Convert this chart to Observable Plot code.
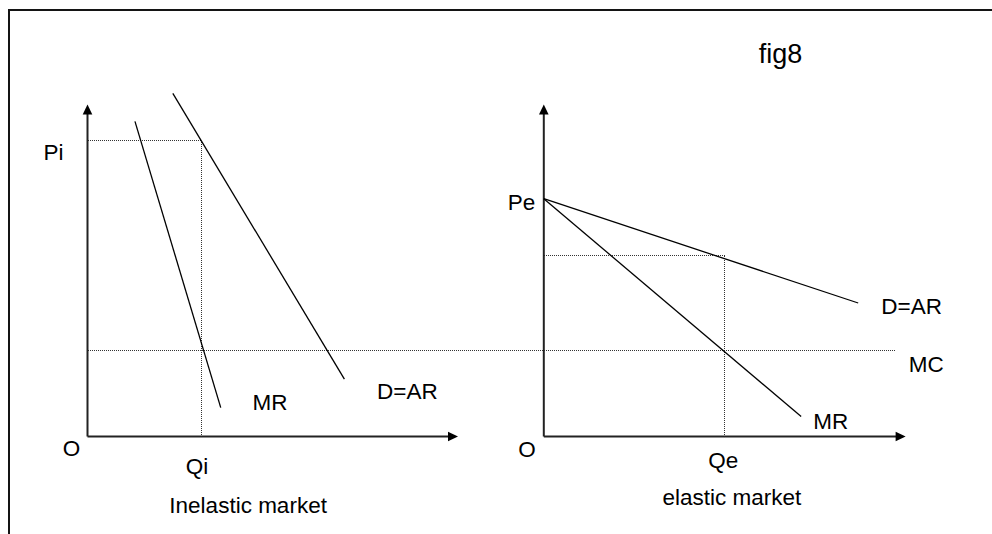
<!DOCTYPE html>
<html>
<head>
<meta charset="utf-8">
<script src="https://cdn.jsdelivr.net/npm/d3@7"></script>
<script src="https://cdn.jsdelivr.net/npm/@observablehq/plot@0.6"></script>
<style>
  html, body { margin: 0; padding: 0; background: #fff; }
  #wrap { position: relative; width: 992px; height: 534px; overflow: hidden; }
  #chart { position: absolute; left: 0; top: 0; }
  #frame { position: absolute; left: 7.5px; top: 8.5px; right: -10px; bottom: -10px;
           border-top: 2px solid #141414; border-left: 2px solid #141414; pointer-events: none; }
</style>
</head>
<body>
<div id="wrap"><div id="chart"></div><div id="frame"></div></div>
<script>
// ---- Data (quantity q, price p in diagram units) ----
const panelNames = ["Inelastic market", "elastic market"];
const originQ = [0, 100];          // where each panel's axes meet
const xAxisTipQ = [81.2, 179.3];   // end of each quantity axis
const yAxisTipP = [100, 100];      // end of each price axis

// demand and marginal revenue curves (straight lines)
const curveName  = ["MR", "D=AR", "MR", "D=AR"];
const curvePanel = [0, 0, 1, 1];
const curveQ0 = [10.4, 18.7, 100, 100];
const curveP0 = [94.9, 103.3, 71.6, 71.6];
const curveQ1 = [29.2, 56.3, 156.4, 168.9];
const curveP1 = [8.7, 17.3, 6.0, 40.2];

// equilibrium (profit-maximising) quantity and price in each market
const eqQ = [25, 139.7];
const eqP = [89.0, 54.4];

// marginal cost (common to both markets)
const mcPrice = 26.0;
const mcEndQ = 176.9;

// labels
const labelText = ["Pi", "O", "Qi", "Inelastic market", "MR", "D=AR",
                   "fig8", "Pe", "D=AR", "MC", "MR", "O", "Qe", "elastic market"];
const labelQ = [-7.45, -3.5, 24.0, 35.2, 40.0, 70.1,
                151.9, 95.1, 180.6, 183.8, 162.9, 96.3, 139.3, 141.2];
const labelP = [85.3, -3.7, -9.0, -21.0, 10.2, 13.5,
                115.2, 70.5, 39.0, 21.6, 4.5, -4.0, -7.2, -18.4];
const labelBig = [false, false, false, false, false, false,
                  true, false, false, false, false, false, false, false];

// ---- Build tables ----
const curves = curveName.map((name, i) => ({
  name, panel: curvePanel[i], q0: curveQ0[i], p0: curveP0[i], q1: curveQ1[i], p1: curveP1[i]
}));
const axesV = originQ.map((q, i) => ({q, p0: 0, p1: yAxisTipP[i] - 2.8}));
const axesH = originQ.map((q, i) => ({q0: q, q1: xAxisTipQ[i] - 2.0, p: 0}));
const tipsUp = originQ.map((q, i) => ({q, p: yAxisTipP[i]}));
const tipsRight = originQ.map((q, i) => ({q: xAxisTipQ[i], p: 0}));
const guidesH = eqQ.map((q, i) => ({q0: originQ[i], q1: q, p: eqP[i]}));
const guidesV = eqQ.map((q, i) => ({q, p0: 0, p1: eqP[i]}));
const mcLine = [{q0: originQ[0], q1: mcEndQ, p: mcPrice}];
const labels = labelText.map((t, i) => ({t, q: labelQ[i], p: labelP[i], big: labelBig[i]}));

// filled arrowheads, tip at the anchor point
const triUp = { draw(ctx) { ctx.moveTo(0, 0); ctx.lineTo(4.8, 10); ctx.lineTo(-4.8, 10); ctx.closePath(); } };
const triRight = { draw(ctx) { ctx.moveTo(0, 0); ctx.lineTo(-10, -4.8); ctx.lineTo(-10, 4.8); ctx.closePath(); } };

const font = "'Liberation Sans', Arial, Helvetica, sans-serif";
const dotted = {stroke: "#333", strokeWidth: 1, strokeDasharray: "1,1", shapeRendering: "crispEdges"};

const chart = Plot.plot({
  width: 992,
  height: 534,
  margin: 0,
  style: {background: "transparent", fontFamily: font, overflow: "visible"},
  x: {domain: [0, 100], range: [87, 543.3], axis: null},
  y: {domain: [0, 100], range: [436, 103.9], axis: null},
  marks: [
    Plot.link(guidesH, {x1: "q0", x2: "q1", y1: "p", y2: "p", ...dotted}),
    Plot.link(guidesV, {x1: "q", x2: "q", y1: "p0", y2: "p1", ...dotted}),
    Plot.link(mcLine, {x1: "q0", x2: "q1", y1: "p", y2: "p", ...dotted}),
    Plot.link(axesV, {x1: "q", x2: "q", y1: "p0", y2: "p1", stroke: "#222", strokeWidth: 2}),
    Plot.link(axesH, {x1: "q0", x2: "q1", y1: "p", y2: "p", stroke: "#222", strokeWidth: 2}),
    Plot.dot(tipsUp, {x: "q", y: "p", symbol: triUp, fill: "#000", stroke: null}),
    Plot.dot(tipsRight, {x: "q", y: "p", symbol: triRight, fill: "#000", stroke: null}),
    Plot.link(curves, {x1: "q0", y1: "p0", x2: "q1", y2: "p1", stroke: "#000", strokeWidth: 1.3}),
    Plot.text(labels.filter(d => !d.big), {x: "q", y: "p", text: "t", fontSize: 22.5, fill: "#000",
      fontFamily: font, textAnchor: "middle"}),
    Plot.text(labels.filter(d => d.big), {x: "q", y: "p", text: "t", fontSize: 27, fill: "#000",
      fontFamily: font, textAnchor: "middle"})
  ]
});
document.getElementById("chart").appendChild(chart);
</script>
</body>
</html>
